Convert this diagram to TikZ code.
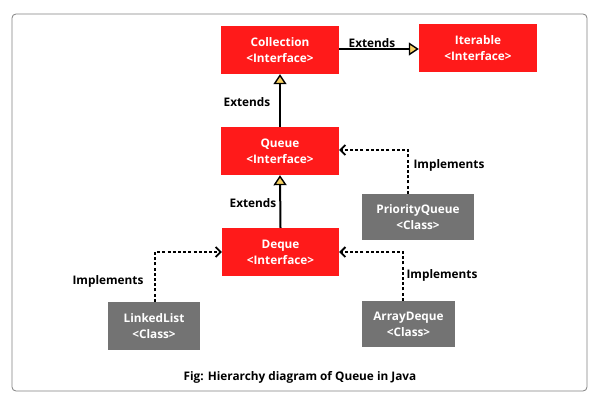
\documentclass[tikz,border=0pt]{standalone}
\usepackage{fontspec}
\setmainfont{Open Sans}
\usetikzlibrary{arrows.meta}
\definecolor{boxred}{HTML}{FF1A1A}
\definecolor{boxgray}{HTML}{737373}
\definecolor{tipyellow}{HTML}{F5D061}
\tikzset{
  iface/.style={fill=boxred, text=white, font=\bfseries\fontsize{11.8}{16}\selectfont, minimum width=118pt, minimum height=48pt, align=center, inner sep=0pt},
  cls/.style={fill=boxgray, text=white, font=\bfseries\fontsize{11.8}{16}\selectfont, minimum height=46pt, align=center, inner sep=0pt},
  lbl/.style={font=\bfseries\fontsize{11.8}{14}\selectfont, text=black, inner sep=0pt},
  ext/.style={line width=2pt, -{Triangle[length=10pt,width=13pt,fill=tipyellow,line width=1.4pt]}},
  impl/.style={line width=2.2pt, dash pattern=on 3pt off 2.2pt, -{Straight Barb[length=5pt,width=10pt,line width=1.8pt]}}
}
\begin{document}
\begin{tikzpicture}[x=1pt,y=1pt]
\useasboundingbox (0,0) rectangle (600,400);
\draw[draw=black!50, line width=0.8pt, rounded corners=4pt] (12,9) rectangle (587,386);
\node[iface] (coll) at (280,350) {Collection\\<Interface>};
\node[iface] (iter) at (478,352) {Iterable\\<Interface>};
\node[iface] (queue) at (280,249) {Queue\\<Interface>};
\node[iface, minimum width=117pt] (deque) at (280.5,148) {Deque\\<Interface>};
\node[cls, minimum width=112pt] (pq) at (418,183) {PriorityQueue\\<Class>};
\node[cls, minimum width=92pt, minimum height=48pt] (ll) at (154,74) {LinkedList\\<Class>};
\node[cls, minimum width=93pt] (ad) at (408.5,76) {ArrayDeque\\<Class>};
\coordinate (pqc) at (408,250);
\coordinate (llc) at (155,148);
\coordinate (adc) at (403,148);
\draw[ext] (coll.east |- 0,351) -- (iter.west |- 0,351);
\draw[ext] (queue.north) -- (coll.south);
\draw[ext] (deque.north) -- (queue.south);
\draw[impl] (pq.north -| pqc) -- (pqc) -- (queue.east |- pqc);
\draw[impl] (ll.north -| llc) -- (llc) -- (deque.west);
\draw[impl] (ad.north -| adc) -- (adc) -- (deque.east);
\node[lbl] (l1) at (372,357) {Extends};
\node[lbl] (l2) at (247,298) {Extends};
\node[lbl] (l3) at (253,197) {Extends};
\node[lbl] (l4) at (449,235) {Implements};
\node[lbl] (l5) at (108,119) {Implements};
\node[lbl] (l6) at (442,125) {Implements};
\node[lbl] (cap) at (300,23) {Fig: Hierarchy diagram of Queue in Java};
\end{tikzpicture}
\end{document}
